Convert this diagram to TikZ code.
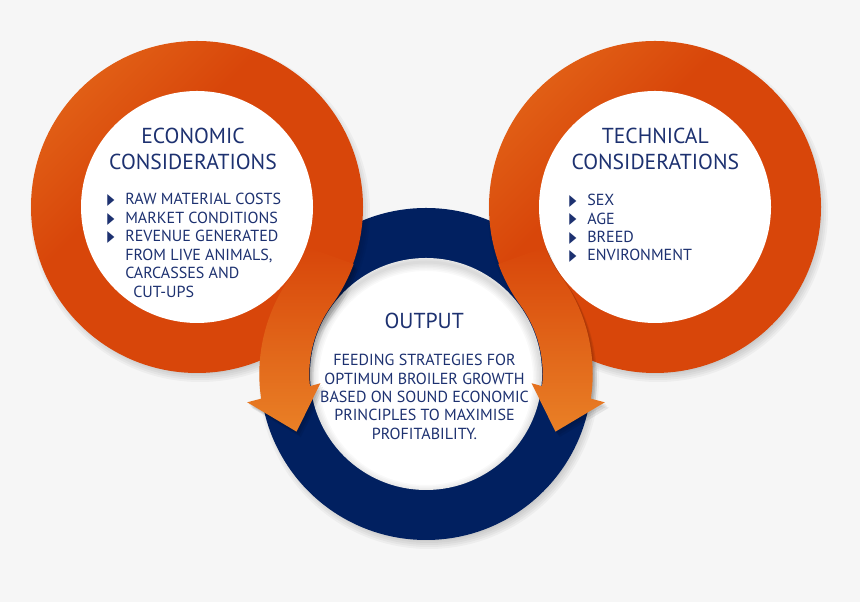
\documentclass[tikz,border=0pt]{standalone}
\usepackage{graphicx}
\usepackage{fontspec}
\setmainfont{PT Sans}
\newfontfamily\symfont{DejaVu Sans}
\usetikzlibrary{positioning}
\usepackage{xcolor}
\definecolor{BroilerOrange}{HTML}{E8731F}
\definecolor{BroilerRust}{HTML}{D8460A}
\definecolor{BroilerAmber}{HTML}{E98026}
\definecolor{BroilerNavy}{HTML}{012060}
\definecolor{BroilerInk}{HTML}{1D3170}
\definecolor{BroilerGrey}{HTML}{F6F6F6}

% Glow of the orange rings (light only towards the upper left)
\pgfdeclareverticalshading{ringglow}{100bp}{color(0bp)=(BroilerRust); color(60bp)=(BroilerRust); color(88bp)=(BroilerOrange); color(100bp)=(BroilerOrange)}

% Bullet marks
\newcommand{\bul}{\makebox[0.45cm][l]{\raisebox{0.2pt}{\symfont\fontsize{11}{11}\selectfont\scalebox{0.6}[1]{▶}}}}
\newcommand{\nobul}{\hspace*{0.45cm}}

% Arm outlines (units: px of the 860x602 canvas)
\newcommand{\econarm}{([shift={(econ)}]-20:166.7) arc[start angle=-20, end angle=-36.1, radius=166.7]
    arc[start angle=143.9, end angle=186, radius=116.7]
    -- ([shift={(out)}]185:106) -- ([shift={(out)}]204:141.7) -- ([shift={(out)}]189:181)
    -- ([shift={(out)}]188.5:166.7) arc[start angle=188.5, end angle=143.9, radius=166.7]
    arc[start angle=-36.1, end angle=-20, radius=116.7] -- cycle}
\newcommand{\techarm}{([shift={(tech)}]200:166.7) arc[start angle=200, end angle=216.1, radius=166.7]
    arc[start angle=36.1, end angle=-6, radius=116.7]
    -- ([shift={(out)}]-5:106) -- ([shift={(out)}]-24:141.7) -- ([shift={(out)}]-9:181)
    -- ([shift={(out)}]-8.5:166.7) arc[start angle=-8.5, end angle=36.1, radius=166.7]
    arc[start angle=216.1, end angle=200, radius=116.7] -- cycle}

\tikzset{
    % Ring styles
    orangering/.style={
        shading=ringglow,
        shading angle=45
    },
    bluering/.style={
        fill=BroilerNavy
    },
    innerdisk/.style={
        fill=white
    },
    ringshadow/.style={
        fill=black,
        opacity=0.035
    },
    % Arm styles
    armbody/.style={
        top color=BroilerRust,
        middle color=BroilerOrange!85!BroilerRust,
        bottom color=BroilerAmber
    },
    armshadow/.style={
        fill=black,
        opacity=0.07
    },
    % Text styles
    heading/.style={
        font=\fontsize{15.4}{18.2}\selectfont,
        text=BroilerInk,
        align=center,
        inner sep=0pt,
        anchor=north
    },
    bullets/.style={
        font=\fontsize{11.4}{13.1}\selectfont,
        text=BroilerInk,
        align=left,
        inner sep=0pt,
        anchor=north west
    },
    summary/.style={
        font=\fontsize{11.4}{13.1}\selectfont,
        text=BroilerInk,
        align=center,
        inner sep=0pt,
        anchor=north
    }
}

\begin{document}
\begin{tikzpicture}[x=0.025cm, y=0.025cm]
    \useasboundingbox (0,0) rectangle (860,602);
    \fill[BroilerGrey] (0,0) rectangle (860,602);

    \coordinate (econ) at (197,395);
    \coordinate (tech) at (655,395);
    \coordinate (out) at (426,228);

    % Output ring
    \foreach \r in {0,...,5}
        \fill[ringshadow] ([shift={(3,-5)}]out) circle[radius=160+2*\r];
    \fill[bluering] (out) circle[radius=166];
    \fill[innerdisk] (out) circle[radius=116];
    \begin{scope}
        \clip (out) circle[radius=116];
        \foreach \w in {3,6,...,18}
            \draw[black, opacity=0.025, line width=\w*0.025cm] ([yshift=-0.1cm]out) circle[radius=116];
    \end{scope}

    % Consideration rings
    \foreach \c in {econ,tech} {
        \foreach \r in {0,...,5}
            \fill[ringshadow] ([shift={(3,-5)}]\c) circle[radius=160+2*\r];
        \shade[orangering] (\c) circle[radius=166];
        \fill[innerdisk] (\c) circle[radius=116];
    }

    % Arms into the output ring
    \foreach \s in {1,2,3} {
        \begin{scope}[transform canvas={shift={(\s*0.035cm,-\s*0.045cm)}}]
            \fill[armshadow] \econarm;
            \fill[armshadow] \techarm;
        \end{scope}
    }
    \shade[armbody] \econarm;
    \shade[armbody] \techarm;

    % Economic considerations
    \node[heading] (econtitle) at (193,473.7) {ECONOMIC\\CONSIDERATIONS};
    \node[bullets] (econlist) at (107,408.7) {\bul RAW MATERIAL COSTS\\
        \bul MARKET CONDITIONS\\
        \bul REVENUE GENERATED\\
        \nobul FROM LIVE ANIMALS,\\
        \nobul CARCASSES AND\\
        \nobul\hspace*{0.2cm}CUT-UPS};

    % Technical considerations
    \node[heading] (techtitle) at (655.3,473.7) {TECHNICAL\\CONSIDERATIONS};
    \node[bullets] (techlist) at (569,408) {\bul SEX\\
        \bul AGE\\
        \bul BREED\\
        \bul ENVIRONMENT};

    % Output
    \node[heading] (outtitle) at (424.2,289.3) {OUTPUT};
    \node[summary] (outtext) at (424.5,248) {FEEDING STRATEGIES FOR\\
        OPTIMUM BROILER GROWTH\\
        BASED ON SOUND ECONOMIC\\
        PRINCIPLES TO MAXIMISE\\
        PROFITABILITY.};
\end{tikzpicture}
\end{document}
